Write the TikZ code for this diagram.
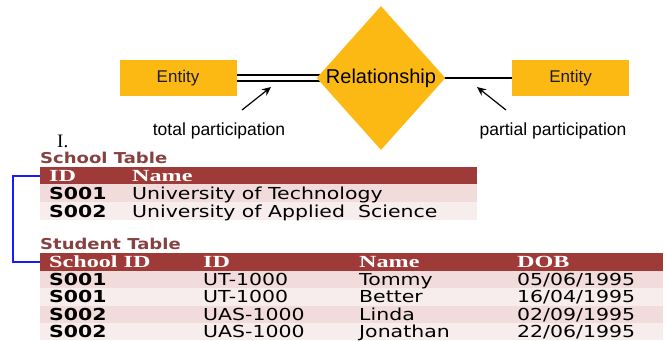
\documentclass[tikz,border=0pt]{standalone}
\usepackage{fontspec}
\setmainfont{Liberation Serif}
\usetikzlibrary{shapes.geometric,arrows.meta,backgrounds}
\newfontfamily\erfont{Liberation Sans}
\newfontfamily\cellfont[FakeStretch=1.24]{DejaVu Sans}
\newfontfamily\captfont[FakeStretch=1.2]{DejaVu Sans}
\newfontfamily\headfont[FakeStretch=1.42]{Liberation Serif}

\definecolor{erfill}{RGB}{253,185,19}
\definecolor{erink}{RGB}{28,28,48}
\definecolor{headred}{RGB}{158,58,56}
\definecolor{rowa}{RGB}{242,220,219}
\definecolor{rowb}{RGB}{248,237,237}
\definecolor{capred}{RGB}{133,66,64}
\definecolor{linkblue}{RGB}{25,25,250}

\begin{document}
\begin{tikzpicture}[x=1pt,y=-1pt,
  entbox/.style={rectangle, fill=erfill, minimum width=117pt, minimum height=36pt,
    inner sep=0pt, text=erink, font=\erfont\fontsize{17}{20}\selectfont},
  reldia/.style={diamond, fill=erfill, minimum width=128pt, minimum height=144pt,
    inner sep=0pt, font=\erfont\fontsize{20}{23}\selectfont},
  note/.style={inner sep=0pt, font=\erfont\fontsize{17.5}{20}\selectfont},
  ptr/.style={-{Stealth[length=9pt,width=8pt]}, line width=1.2pt},
  band/.style={rectangle, anchor=north west, inner sep=0pt, outer sep=0pt},
  headband/.style={band, fill=headred},
  oddband/.style={band, fill=rowa},
  evenband/.style={band, fill=rowb},
  tcap/.style={anchor=base west, inner sep=0pt, text=capred,
    font=\captfont\bfseries\fontsize{15}{18}\selectfont},
  thead/.style={anchor=base west, inner sep=0pt, text=white,
    font=\headfont\bfseries\fontsize{17}{20}\selectfont},
  tkey/.style={anchor=base west, inner sep=0pt,
    font=\cellfont\bfseries\fontsize{16.5}{18}\selectfont},
  tcell/.style={anchor=base west, inner sep=0pt,
    font=\cellfont\fontsize{16.5}{18}\selectfont},
  link/.style={draw=linkblue, line width=2pt}
]
\useasboundingbox (0,0) rectangle (668,340);

% ---- ER notation ----
\node[entbox] (ent1) at (178,78) {Entity};
\node[reldia] (rel) at (381,78) {Relationship};
\node[entbox] (ent2) at (570.5,78) {Entity};
\begin{scope}[on background layer]
  \draw[double, double distance=4.6pt, line width=1.3pt] (ent1.east) -- ([xshift=6pt]rel.west);
  \draw[line width=1.5pt] ([xshift=-4pt]rel.east) -- (ent2.west);
\end{scope}

\node[note] (tp) at (219,131) {total participation};
\node[note] (pp) at (553,131) {partial participation};
\coordinate (tpa) at (242,110);
\coordinate (tpb) at (271,87);
\coordinate (ppa) at (506,110);
\coordinate (ppb) at (477,87);
\draw[ptr] (tpa) -- (tpb);
\draw[ptr] (ppa) -- (ppb);

\node[anchor=base west, inner sep=0pt, font=\fontsize{19}{22}\selectfont] (num) at (57,147) {I.};

% ---- School table ----
\node[tcap] (schcap) at (40,163) {School Table};
\node[headband, minimum width=437pt, minimum height=17pt] (schhead) at (40,167) {};
\node[oddband,  minimum width=437pt, minimum height=18pt] (schr1) at (40,184) {};
\node[evenband, minimum width=437pt, minimum height=18pt] (schr2) at (40,202) {};
\node[thead] (schh1) at (49,181) {ID};
\node[thead] (schh2) at (132,181) {Name};
\node[tkey]  (sch11) at (49,199) {S001};
\node[tcell] (sch12) at (132,199) {University of Technology};
\node[tkey]  (sch21) at (49,217) {S002};
\node[tcell] (sch22) at (132,217) {University of Applied\ \ Science};

% ---- Student table ----
\node[tcap] (stucap) at (40,249) {Student Table};
\node[headband, minimum width=623pt, minimum height=18pt] (stuhead) at (40,253) {};
\node[oddband,  minimum width=623pt, minimum height=17.25pt] (stur1) at (40,271) {};
\node[evenband, minimum width=623pt, minimum height=17.25pt] (stur2) at (40,288.25) {};
\node[oddband,  minimum width=623pt, minimum height=17.25pt] (stur3) at (40,305.5) {};
\node[evenband, minimum width=623pt, minimum height=17.25pt] (stur4) at (40,322.75) {};
\node[thead] (stuh1) at (49,267.6) {School ID};
\node[thead] (stuh2) at (203,267.6) {ID};
\node[thead] (stuh3) at (359,267.6) {Name};
\node[thead] (stuh4) at (517,267.6) {DOB};

\node[tkey]  (stu11) at (49,285.6) {S001};
\node[tcell] (stu12) at (203,285.6) {UT-1000};
\node[tcell] (stu13) at (359,285.6) {Tommy};
\node[tcell] (stu14) at (517,285.6) {05/06/1995};

\node[tkey]  (stu21) at (49,302.9) {S001};
\node[tcell] (stu22) at (203,302.9) {UT-1000};
\node[tcell] (stu23) at (359,302.9) {Better};
\node[tcell] (stu24) at (517,302.9) {16/04/1995};

\node[tkey]  (stu31) at (49,320.1) {S002};
\node[tcell] (stu32) at (203,320.1) {UAS-1000};
\node[tcell] (stu33) at (359,320.1) {Linda};
\node[tcell] (stu34) at (517,320.1) {02/09/1995};

\node[tkey]  (stu41) at (49,337.4) {S002};
\node[tcell] (stu42) at (203,337.4) {UAS-1000};
\node[tcell] (stu43) at (359,337.4) {Jonathan};
\node[tcell] (stu44) at (517,337.4) {22/06/1995};

% ---- key link between the tables ----
\draw[link] (schhead.west) -- ++(-27,0) |- (stuhead.west);
\end{tikzpicture}
\end{document}
